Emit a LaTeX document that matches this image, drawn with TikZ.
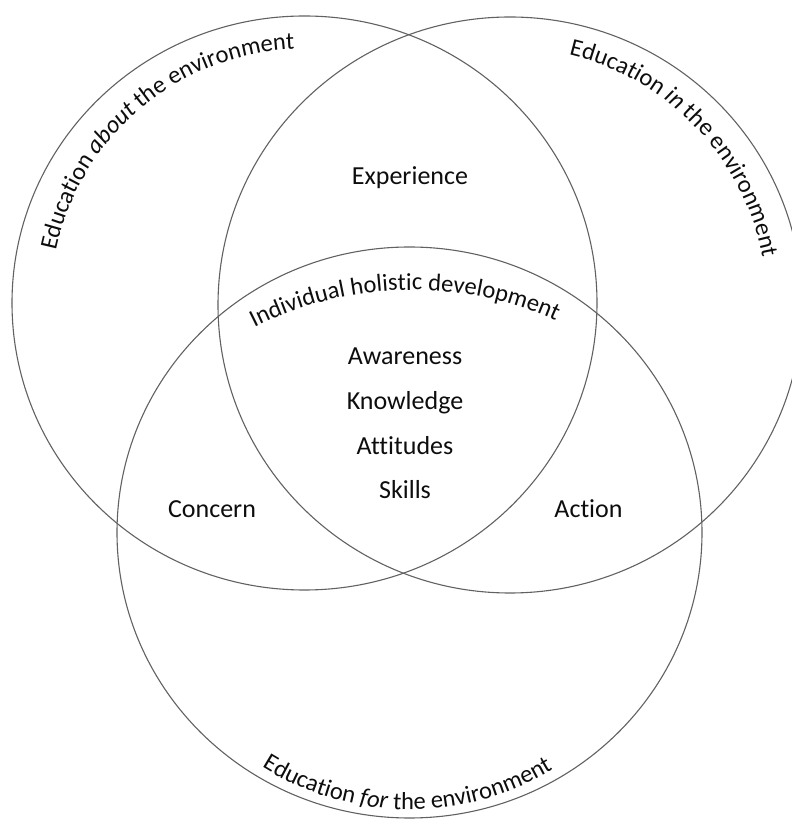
\documentclass[tikz,border=0pt]{standalone}
\usepackage{fontspec}
\setmainfont{Carlito}[Ligatures=NoCommon]
\usetikzlibrary{decorations.text}
\tikzset{
  ring/.style={draw=black!62, line width=1.1pt},
  lbl/.style={font=\fontsize{26}{31}\selectfont, anchor=base, inner sep=0pt, text=black!95},
}
\newcommand{\cf}{\fontsize{24.5}{29}\selectfont\color{black!95}}
\begin{document}
\begin{tikzpicture}[x=1pt,y=1pt]
\useasboundingbox (0,0) rectangle (792,820);
% circles
\draw[ring] (304.5,517) ellipse [x radius=292.5, y radius=287];
\draw[ring] (510,515) ellipse [x radius=292, y radius=288];
\draw[ring] (409.5,287.5) ellipse [x radius=292.5, y radius=285.5];
% inner labels
\node[lbl] (exp) at (410,635) {Experience};
\node[lbl] (awa) at (405,455) {Awareness};
\node[lbl] (kno) at (405,410) {Knowledge};
\node[lbl] (att) at (405,365) {Attitudes};
\node[lbl] (ski) at (405,321) {Skills};
\node[lbl] (con) at (212,302) {Concern};
\node[lbl] (act) at (588.5,302) {Action};
% curved labels
\path[decorate, decoration={text along path, text align=center,
  text={|\cf|Education |\cf\itshape|about|\cf| the environment}}]
  (304.5,517) ++(190.2:254) arc[start angle=190.2, end angle=70.2, radius=254];
\path[decorate, decoration={text along path, text align=center,
  text={|\cf|Education |\cf\itshape|in|\cf| the environment}}]
  (510,515) ++(103.7:257) arc[start angle=103.7, end angle=-16.3, radius=257];
\path[decorate, decoration={text along path, text align=center,
  text={|\cf|Education |\cf\itshape|for|\cf| the environment}}]
  (409.5,287.5) ++(209.5:277) arc[start angle=209.5, end angle=329.5, radius=277];
\path[decorate, decoration={text along path, text align=center,
  text={|\cf|Individual holistic development}}]
  (412,180) ++(121.26:350) arc[start angle=121.26, end angle=61.26, radius=350];
\end{tikzpicture}
\end{document}
